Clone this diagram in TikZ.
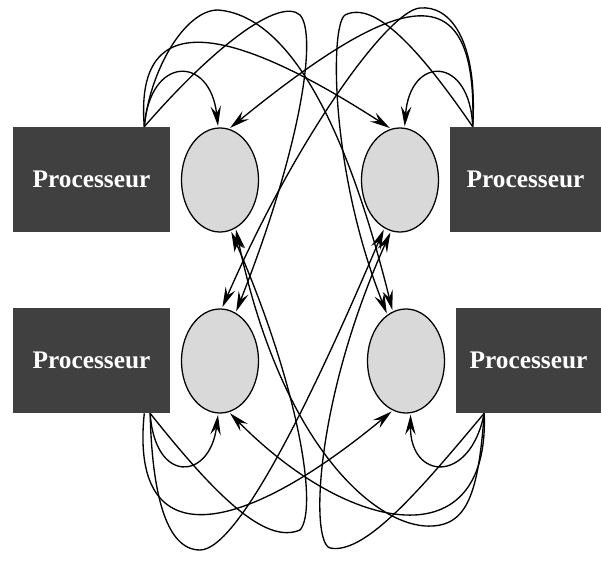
\documentclass[tikz,border=0pt]{standalone}
\usepackage{fontspec}
\setmainfont{Liberation Serif}
\usetikzlibrary{arrows.meta,shapes.geometric}

\begin{document}
\begin{tikzpicture}[x=0.025cm, y=-0.025cm,
  proc/.style={fill=black!75, minimum height=2.625cm, inner sep=0pt, text=white, font=\fontsize{18}{20}\selectfont\bfseries},
  mem/.style={draw, ellipse, fill=black!15, line width=0.9pt, minimum width=1.925cm, minimum height=2.6cm, inner sep=0pt},
  link/.style={-{Stealth[length=5mm,width=2.6mm,inset=1.8mm]}, line width=0.95pt, shorten >=1pt}
]
\useasboundingbox (0,0) rectangle (601,571);
\node[proc, minimum width=3.925cm] (P1) at (91.5,179.5) {Processeur};
\node[proc, minimum width=3.775cm] (P2) at (525.5,179.5) {Processeur};
\node[proc, minimum width=3.925cm] (P3) at (91.5,360.5) {Processeur};
\node[proc, minimum width=3.625cm] (P4) at (528.5,360.5) {Processeur};
\node[mem] (M1) at (220,180) {};
\node[mem] (M2) at (400,180) {};
\node[mem] (M3) at (220,361) {};
\node[mem] (M4) at (406,361) {};
\draw[link] (P1.45) .. controls (150,55) and (210,55) .. (M1.92);
\draw[link] (P1.45) .. controls (135,15) and (215,15) .. (M2.100);
\draw[link] (P1.45) .. controls (215,45) and (280,-3) .. (300,15) .. controls (318,35) and (300,150) .. (M3.72);
\draw[link] (P1.45) .. controls (150,70) and (185,10) .. (218,10) .. controls (280,15) and (340,100) .. (M4.105);
\draw[link] (P2.135) .. controls (470,55) and (410,55) .. (M2.85);
\draw[link] (P2.135) .. controls (478,-30) and (400,-10) .. (M1.80);
\draw[link] (P2.135) .. controls (420,50) and (375,0) .. (345,15) .. controls (330,25) and (330,170) .. (M4.112);
\draw[link] (P2.135) .. controls (478,40) and (450,5) .. (420,8) .. controls (390,10) and (300,130) .. (M3.88);
\draw[link] (P3.-42) .. controls (155,485) and (210,480) .. (M3.-92);
\draw[link] (P3.-45) .. controls (130,550) and (230,545) .. (M4.-105);
\draw[link] (P3.-42) .. controls (215,495) and (265,545) .. (300,530) .. controls (318,510) and (300,390) .. (M1.-78);
\draw[link] (P3.-42) .. controls (152,490) and (165,550) .. (200,550) .. controls (240,550) and (320,380) .. (M2.-108);
\draw[link] (P4.-130) .. controls (470,485) and (410,480) .. (M4.-85);
\draw[link] (P4.-130) .. controls (490,560) and (350,535) .. (M3.-80);
\draw[link] (P4.-130) .. controls (478,500) and (465,528) .. (425,526) .. controls (370,522) and (280,440) .. (M1.-72);
\draw[link] (P4.-130) .. controls (420,490) and (365,555) .. (330,548) .. controls (310,542) and (315,400) .. (M2.-100);
\end{tikzpicture}
\end{document}
